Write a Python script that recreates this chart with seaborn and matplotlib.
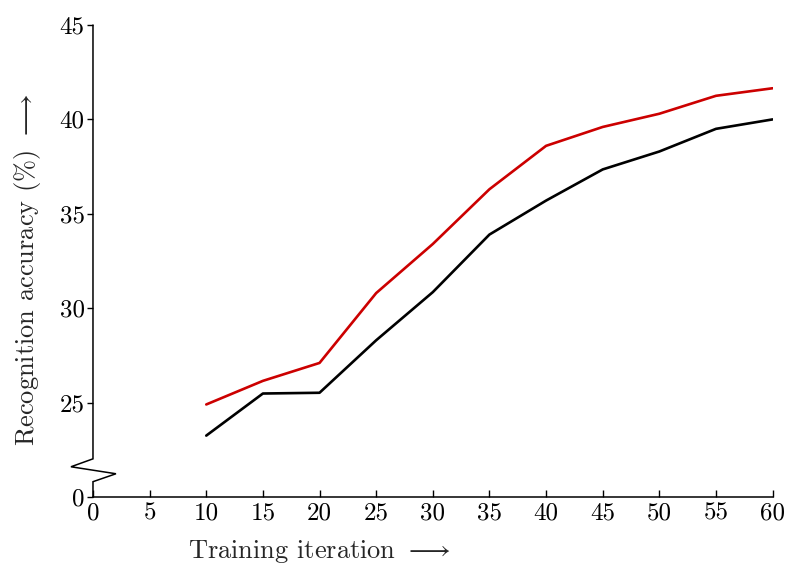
import matplotlib
matplotlib.use("Agg")
import matplotlib.pyplot as plt
import matplotlib.transforms as mtransforms
import pandas as pd
import seaborn as sns

# Recognition accuracy (%) per training iteration
iterations = [10, 15, 20, 25, 30, 35, 40, 45, 50, 55, 60]
acc_red = [24.9, 26.15, 27.1, 30.8, 33.4, 36.3, 38.6, 39.6, 40.3, 41.25, 41.65]
acc_black = [23.25, 25.48, 25.52, 28.3, 30.85, 33.9, 35.7, 37.35, 38.3, 39.5, 40.0]

x_ticks = [0, 5, 10, 15, 20, 25, 30, 35, 40, 45, 50, 55, 60]
y_ticks = [20, 25, 30, 35, 40, 45]
y_tick_labels = ["0", "25", "30", "35", "40", "45"]

sns.set_theme(style="ticks")
plt.rcParams["font.family"] = ["cmr10", "DejaVu Serif"]
plt.rcParams["mathtext.fontset"] = "cm"
plt.rcParams["axes.formatter.use_mathtext"] = True

df = pd.DataFrame({
    "iteration": iterations * 2,
    "accuracy": acc_red + acc_black,
    "series": ["red"] * len(iterations) + ["black"] * len(iterations),
})

fig = plt.figure(figsize=(7.9, 5.67), dpi=100)
ax = fig.add_axes([0.1177, 0.1235, 0.8603, 0.8324])

sns.lineplot(data=df, x="iteration", y="accuracy", hue="series",
             palette={"red": "#cc0000", "black": "#000000"},
             linewidth=1.9, legend=False, ax=ax)

ax.set_xlim(0, 60)
ax.set_ylim(20, 45)
ax.set_xticks(x_ticks)
ax.set_xticklabels([str(v) for v in x_ticks])
ax.set_yticks(y_ticks)
ax.set_yticklabels(y_tick_labels)

for side in ("top", "right", "left"):
    ax.spines[side].set_visible(False)
ax.spines["bottom"].set_linewidth(1.1)
ax.spines["bottom"].set_color("black")

ax.tick_params(axis="x", direction="in", length=5, width=1.0, colors="black",
               labelsize=18, pad=4)
ax.tick_params(axis="y", direction="out", length=4, width=1.0, colors="black",
               labelsize=18, pad=2)

# left axis line with a zig-zag break between 0 and 25
trans = mtransforms.blended_transform_factory(ax.transAxes, ax.transData)
bx = [0, 0, -0.0324, 0.0338, 0, 0]
by = [45, 22.02, 21.6, 21.23, 20.81, 20]
ax.plot(bx, by, color="black", lw=1.1, transform=trans, clip_on=False,
        solid_joinstyle="miter")

ax.set_xlabel(r"Training iteration $\longrightarrow$", fontsize=19)
ax.xaxis.label.set(va="center", ha="center")
ax.xaxis.set_label_coords(0.333, -0.1165)

ax.set_ylabel(r"Recognition accuracy (%) $\longrightarrow$", fontsize=19)
ax.yaxis.label.set(va="center", ha="center", rotation_mode="default")
ax.yaxis.set_label_coords(-0.097, 0.481)

fig.savefig("out.png", dpi=100)
